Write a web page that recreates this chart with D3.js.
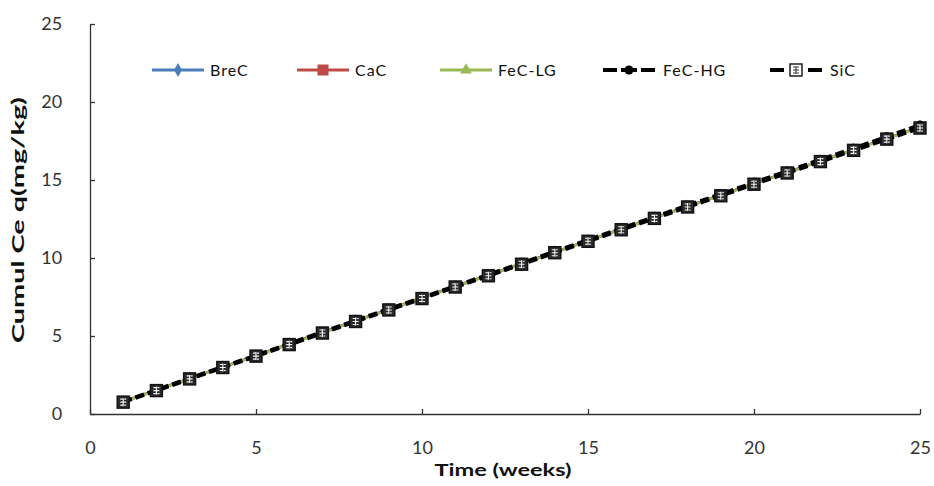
<!DOCTYPE html>
<html><head><meta charset="utf-8">
<script src="https://cdn.jsdelivr.net/npm/d3@7/dist/d3.min.js"></script>
<style>body{margin:0;background:#fff}svg{display:block}</style>
</head><body><svg id="c" width="934" height="486"></svg>
<script>
const weeks = d3.range(1, 26);
const breC  = [0.78,1.52,2.27,3.00,3.73,4.48,5.22,5.96,6.70,7.43,8.17,8.89,9.63,10.37,11.10,11.84,12.57,13.30,14.02,14.76,15.48,16.21,16.93,17.66,18.38];
const caC   = [0.80,1.54,2.29,3.02,3.76,4.50,5.24,5.98,6.72,7.45,8.19,8.91,9.65,10.39,11.12,11.86,12.59,13.32,14.04,14.78,15.50,16.23,16.95,17.68,18.40];
const feCLG = [0.77,1.51,2.26,2.99,3.72,4.47,5.21,5.95,6.69,7.42,8.16,8.88,9.62,10.36,11.09,11.83,12.56,13.29,14.01,14.75,15.47,16.20,16.92,17.65,18.37];
const feCHG = [0.79,1.54,2.29,3.02,3.75,4.50,5.25,5.99,6.73,7.46,8.20,8.93,9.67,10.41,11.15,11.89,12.62,13.36,14.09,14.83,15.56,16.30,17.03,17.77,18.52];
const siC   = [0.76,1.50,2.25,2.98,3.71,4.45,5.19,5.93,6.67,7.40,8.14,8.86,9.60,10.34,11.07,11.81,12.54,13.27,13.99,14.73,15.45,16.18,16.90,17.62,18.33];
const seriesNames = ["BreC","CaC","FeC-LG","FeC-HG","SiC"];
const xTicks = [0,5,10,15,20,25];
const yTicks = [0,5,10,15,20,25];

const series = [
  {name:seriesNames[0], values:breC,  color:"#4a7ebb", dash:null, marker:"diamond", fill:"#4a7ebb"},
  {name:seriesNames[1], values:caC,   color:"#be4b48", dash:null, marker:"square", fill:"#be4b48"},
  {name:seriesNames[2], values:feCLG, color:"#98b954", dash:null, marker:"triangle", fill:"#98b954"},
  {name:seriesNames[3], values:feCHG, color:"#000", dash:"9,4", marker:"circle", fill:"#000"},
  {name:seriesNames[4], values:siC,   color:"#000", dash:"9,4", marker:"box", fill:"#fff"}
];

const svg = d3.select("#c");
const x = d3.scaleLinear().domain([0,25]).range([90,920]);
const y = d3.scaleLinear().domain([0,25]).range([414,24]);
const font = "Lato, 'Open Sans', sans-serif";

// axes
const xa = svg.append("g").attr("transform","translate(0,414)")
  .call(d3.axisBottom(x).tickValues(xTicks).tickSize(5).tickSizeOuter(0));
const ya = svg.append("g").attr("transform","translate(90,0)")
  .call(d3.axisLeft(y).tickValues(yTicks).tickSize(5).tickSizeOuter(0));
[xa,ya].forEach(a=>{
  a.select(".domain").attr("stroke","#333").attr("stroke-width",1.3);
  a.selectAll(".tick line").attr("stroke","#333").attr("stroke-width",1.3);
  a.selectAll("text").attr("font-family",font).attr("font-size",18).attr("fill","#333");
});
xa.selectAll(".tick line").attr("y1",-5).attr("y2",0);
ya.selectAll(".tick line").attr("x1",5).attr("x2",0);
xa.selectAll("text").attr("dy","1.75em");
ya.selectAll("text").attr("dx","-1.1em");

svg.append("text").attr("x",503).attr("y",476).attr("text-anchor","middle")
  .attr("font-family",font).attr("font-weight","bold").attr("font-size",17).attr("fill","#111")
  .attr("textLength",137).attr("lengthAdjust","spacingAndGlyphs")
  .text("Time (weeks)");
svg.append("text").attr("transform","translate(24,220) rotate(-90)").attr("text-anchor","middle")
  .attr("font-family",font).attr("font-weight","bold").attr("font-size",17).attr("fill","#111")
  .attr("textLength",246).attr("lengthAdjust","spacingAndGlyphs")
  .text("Cumul Ce q(mg/kg)");

function drawMarker(g, s, cx, cy, legend){
  if(s.marker==="diamond"){
    g.append("path").attr("d",d3.symbol(d3.symbolDiamond,55)()).attr("transform",`translate(${cx},${cy})`).attr("fill",s.fill);
  } else if(s.marker==="square"){
    g.append("rect").attr("x",cx-5.5).attr("y",cy-5.5).attr("width",11).attr("height",11).attr("fill",s.fill);
  } else if(s.marker==="triangle"){
    g.append("path").attr("d",d3.symbol(d3.symbolTriangle,60)()).attr("transform",`translate(${cx},${cy})`).attr("fill",s.fill);
  } else if(s.marker==="circle"){
    g.append("circle").attr("cx",cx).attr("cy",cy).attr("r",4.5).attr("fill",s.fill);
  } else if(s.marker==="box"){
    const bg = legend ? "#fff" : "#2a2a2a";
    const fg = legend ? "#333" : "#f4f4f4";
    g.append("rect").attr("x",cx-6).attr("y",cy-6).attr("width",12).attr("height",12)
      .attr("fill",bg).attr("stroke","#111").attr("stroke-width",1.4);
    g.append("path").attr("d",`M${cx-3},${cy-3}h2.5M${cx+1},${cy-3}h2M${cx-3},${cy}h6M${cx-3},${cy+3}h2.5M${cx+1},${cy+3}h2M${cx},${cy-4}v8`)
      .attr("stroke",fg).attr("stroke-width",1.1);
  }
}

const line = d3.line().x((d,i)=>x(weeks[i])).y(d=>y(d));
series.forEach(s=>{
  const g = svg.append("g");
  g.append("path").datum(s.values).attr("d",line).attr("fill","none")
    .attr("stroke",s.color).attr("stroke-width",s.dash?4:2.5)
    .attr("stroke-dasharray",s.dash);
  s.values.forEach((v,i)=>drawMarker(g,s,x(weeks[i]),y(v),false));
});

// legend
const legX = [152,297,440,603,770];
series.forEach((s,i)=>{
  const g = svg.append("g");
  const x0 = legX[i], ly = 70;
  if(s.dash){
    g.append("line").attr("x1",x0).attr("x2",x0+14).attr("y1",ly).attr("y2",ly).attr("stroke",s.color).attr("stroke-width",4);
    g.append("line").attr("x1",x0+38).attr("x2",x0+52).attr("y1",ly).attr("y2",ly).attr("stroke",s.color).attr("stroke-width",4);
    if(s.marker==="circle"){
      g.append("line").attr("x1",x0+18).attr("x2",x0+34).attr("y1",ly).attr("y2",ly).attr("stroke",s.color).attr("stroke-width",4);
    }
  } else {
    g.append("line").attr("x1",x0).attr("x2",x0+52).attr("y1",ly).attr("y2",ly).attr("stroke",s.color).attr("stroke-width",3);
  }
  drawMarker(g,s,x0+26,ly,true);
  g.append("text").attr("x",x0+(s.dash?60:58)).attr("y",ly+6).attr("font-family",font).attr("font-size",16)
    .attr("letter-spacing",1).attr("fill","#111").text(s.name);
});
</script></body></html>
